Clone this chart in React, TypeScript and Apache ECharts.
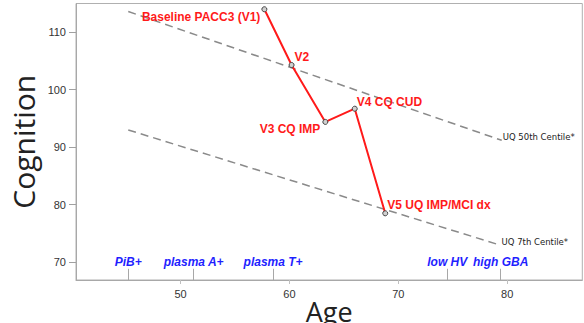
import React, { useEffect, useRef } from "react";
import * as echarts from "echarts";

const visitAges = [57.7, 60.2, 63.3, 66.0, 68.8];
const visitCognition = [114.0, 104.3, 94.4, 96.7, 78.5];
const visitLabels = ["Baseline PACC3 (V1)", "V2", "V3 CQ IMP", "V4 CQ CUD", "V5 UQ IMP/MCI dx"];

const centile50Ages = [45.2, 79.5];
const centile50Values = [113.6, 91.2];
const centile7Ages = [45.2, 79.3];
const centile7Values = [93.0, 73.0];

const biomarkerNames = ["PiB+", "plasma A+", "plasma T+", "low HV", "high GBA"];
const biomarkerAges = [45.2, 51.2, 58.5, 74.5, 79.4];

const xTicks = [50, 60, 70, 80];
const yTicks = [70, 80, 90, 100, 110];

const X_MIN = 40.4;
const X_MAX = 86.9;
const Y_MIN = 66.9;
const Y_MAX = 115.0;

export default function App() {
  const ref = useRef<HTMLDivElement>(null);
  useEffect(() => {
    if (!ref.current) return;
    const chart = echarts.init(ref.current, null, { renderer: "svg" });
    const labelCfg = [
      { align: "right", offset: [-4, 8] },
      { align: "left", offset: [3, -8] },
      { align: "right", offset: [-5, 7] },
      { align: "left", offset: [2, -7] },
      { align: "left", offset: [2, -8] },
    ];
    const redData = visitAges.map((a, i) => ({
      value: [a, visitCognition[i]],
      name: visitLabels[i],
      label: {
        show: true,
        position: "inside",
        align: labelCfg[i].align,
        verticalAlign: "middle",
        offset: labelCfg[i].offset,
        formatter: visitLabels[i],
      },
    }));
    const centileSeries = (ages: number[], vals: number[], text: string, off: number[]) => ({
      type: "line",
      silent: true,
      symbol: "none",
      lineStyle: { color: "#8a8a8a", width: 1.5, type: [8, 5] },
      data: ages.map((a, i) => [a, vals[i]]),
      endLabel: {
        show: true,
        distance: 1,
        offset: off,
        formatter: () => text,
        fontSize: 8.5,
        color: "#222",
        fontFamily: "DejaVu Sans, sans-serif",
      },
      z: 1,
    });
    chart.setOption({
      animation: false,
      backgroundColor: "#fff",
      grid: {
        left: 76,
        top: 3.5,
        width: 506.3,
        height: 276.5,
        show: true,
        borderColor: "#b0b0b0",
        borderWidth: 1,
        containLabel: false,
        outerBoundsMode: "none",
      },
      xAxis: {
        type: "value",
        min: X_MIN,
        max: X_MAX,
        name: "Age",
        nameLocation: "middle",
        nameGap: 18,
        nameMoveOverlap: false,
        nameTextStyle: { fontSize: 27, fontFamily: "Open Sans, sans-serif", color: "#222" },
        axisLine: { show: true, lineStyle: { color: "#a8a8a8" } },
        axisTick: { show: true, length: 4, lineStyle: { color: "#c0c0c0" }, customValues: xTicks },
        axisLabel: {
          customValues: xTicks,
          margin: 8,
          fontSize: 11,
          color: "#333",
          fontFamily: "Liberation Sans, Arial, sans-serif",
        },
        splitLine: { show: false },
      },
      yAxis: {
        type: "value",
        min: Y_MIN,
        max: Y_MAX,
        name: "Cognition",
        nameLocation: "middle",
        nameGap: 38,
        nameMoveOverlap: false,
        nameRotate: 90,
        nameTextStyle: { fontSize: 30, fontFamily: "Open Sans, sans-serif", color: "#222" },
        axisLine: { show: true, lineStyle: { color: "#a8a8a8" } },
        axisTick: { show: true, length: 7, lineStyle: { color: "#a0a0a0" }, customValues: yTicks },
        axisLabel: {
          customValues: yTicks,
          margin: 10,
          fontSize: 11,
          color: "#333",
          fontFamily: "Liberation Sans, Arial, sans-serif",
        },
        splitLine: { show: false },
      },
      series: [
        centileSeries(centile50Ages, centile50Values, "UQ 50th Centile*", [0, -3]),
        centileSeries(centile7Ages, centile7Values, "UQ 7th Centile*", [1, -3]),
        {
          type: "scatter",
          silent: true,
          symbolSize: 1,
          itemStyle: { opacity: 0 },
          data: biomarkerAges.map((a, i) => ({ value: [a, 70], name: biomarkerNames[i] })),
          label: {
            show: true,
            position: "inside",
            formatter: (p: any) => p.name,
            fontSize: 12,
            fontWeight: "bold",
            fontStyle: "italic",
            color: "#1f1fff",
            opacity: 1,
            fontFamily: "Liberation Sans, Arial, sans-serif",
          },
          markLine: {
            silent: true,
            symbol: "none",
            label: { show: false },
            lineStyle: { color: "#a8a8a8", width: 1, type: "solid" },
            data: biomarkerAges.map((a) => [
              { coord: [a, Y_MIN] },
              { coord: [a, 68.85] },
            ]),
          },
        },
        {
          type: "line",
          silent: true,
          symbol: "circle",
          symbolSize: 5,
          itemStyle: { color: "#d0d0d0", borderColor: "#444", borderWidth: 1 },
          lineStyle: { color: "#ff1a1a", width: 2 },
          label: {
            fontSize: 12,
            fontWeight: "bold",
            color: "#ff1a1a",
            fontFamily: "Liberation Sans, Arial, sans-serif",
          },
          data: redData,
          z: 3,
        },
      ],
    });
    return () => chart.dispose();
  }, []);
  return <div ref={ref} style={{ position: "fixed", left: 0, top: 0, width: 584, height: 323 }} />;
}
